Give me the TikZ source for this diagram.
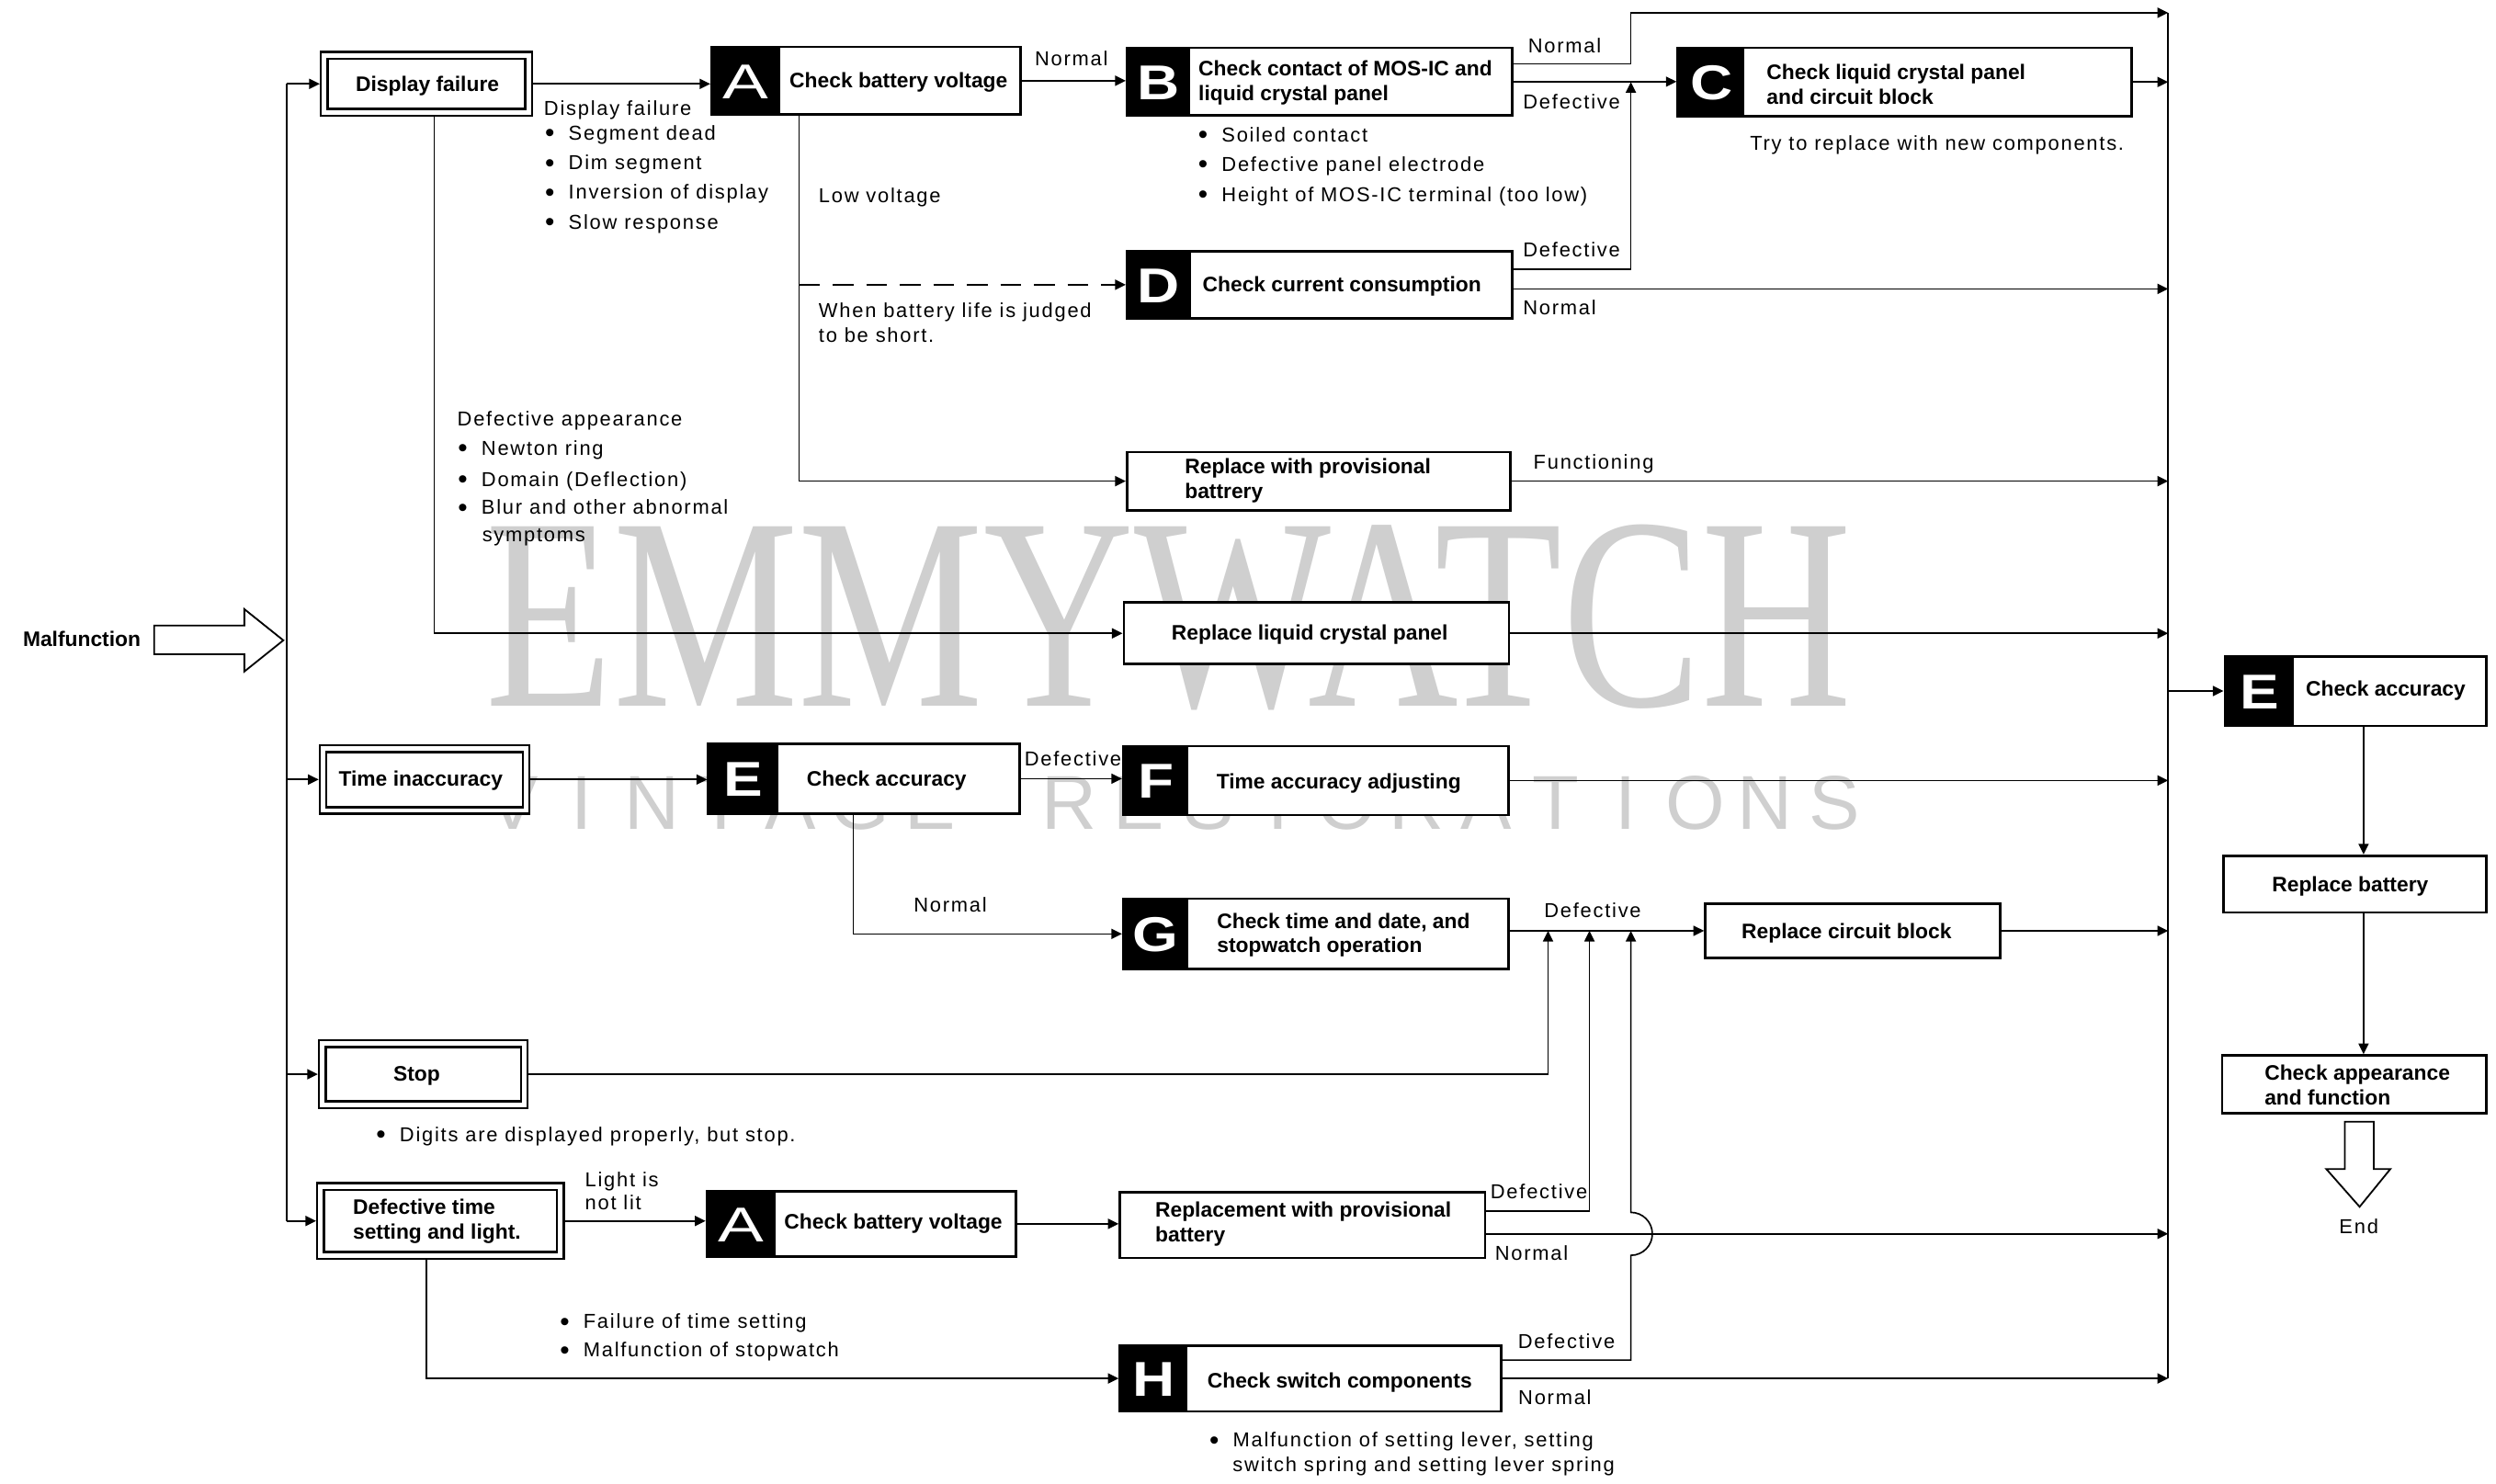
\documentclass[tikz,border=0pt]{standalone}
\usepackage{fontspec}
\usepackage{graphicx}
\setmainfont{Liberation Sans}
\newfontfamily\lbfam[LetterSpace=8]{Liberation Sans}
\newfontfamily\wmserif{Liberation Serif}
\usetikzlibrary{arrows.meta,fit}
\definecolor{wmgray}{gray}{0.81}
\newcommand\lbfont{\lbfam\fontsize{7.2}{8.6}\selectfont}
\newcommand\btfont{\bfseries\fontsize{7.5}{8.76}\selectfont}
\newcommand\ltrthin[1]{\scalebox{1.4}[1]{\fontsize{17.5}{17.5}\selectfont #1}}
\newcommand\ltrbold[1]{\scalebox{1.2}[1]{\bfseries\fontsize{17.5}{17.5}\selectfont #1}}
\newcommand\bigbul{\makebox[8.4pt][l]{\raisebox{-0.8pt}{\scalebox{1.35}{\textbullet}}}}
\tikzset{
  pbox/.style={draw, line width=0.9pt, fill=white, inner sep=0pt},
  dbox/.style={draw, line width=0.8pt, double, double distance=1.6pt, fill=white, inner sep=0pt, outer sep=1.6pt},
  letter/.style={text=white, inner sep=0pt, text height=12.8pt, text depth=0pt},
  btxt/.style={font=\btfont, inner sep=0pt, text height=5.4pt, text depth=0pt},
  btxt2/.style={font=\btfont, inner sep=0pt, align=left, anchor=west},
  lbl/.style={font=\lbfont, inner sep=0pt, anchor=west, text height=5.2pt, text depth=0pt},
  lblc/.style={lbl, anchor=center},
  conn/.style={line width=0.55pt},
  arr/.style={conn, -{Triangle[length=3.8pt,width=3.6pt]}},
  hollow/.style={draw, line width=0.6pt, fill=white},
  wm1/.style={inner sep=0pt, anchor=base, text=wmgray},
  wm2/.style={inner sep=0pt, anchor=base, text=wmgray, font=\fontsize{27.3}{27.3}\selectfont},
}
\newcommand\mkpbox[5]{\node[pbox, fit={(#2,#3) (#4,#5)}] (#1) {};}
\newcommand\mkdbox[5]{\node[dbox, fit={(#2,#3) (#4,#5)}] (#1) {};}
\newcommand\mklbox[7]{\node[pbox, fit={(#2,#3) (#4,#5)}] (#1) {};
  \fill[black] (#2,#3) rectangle (#6,#5);
  \node[letter] (#1L) at ({(#2+#6)/2},{(#3+#5)/2}) {#7};}
\newcommand\mklab[4]{\node[lbl] (#1) at (#2,#3) {#4};}
\newcommand\mklabc[4]{\node[lblc] (#1) at (#2,#3) {#4};}
\newcommand\mkbul[4]{\node[lbl] (#1) at ({#2-2.6},#3) {\bigbul#4};}
\begin{document}
\begin{tikzpicture}[x=0.02cm, y=-0.02cm]
\fill[white] (0,0) rectangle (1568,931.8);
\useasboundingbox (0,0) rectangle (1568,931.8);
% watermark
\node[wm1] (wmA) at (734.3,443.7) {\scalebox{0.76}[1]{\wmserif\fontsize{98}{98}\selectfont EMMYWATCH}};
\foreach \i/\ch in {0/V,1/I,2/N,3/T,4/A,5/G,6/E,8/R,9/E,10/S,11/T,12/O,13/R,14/A,15/T,16/I,17/O,18/N,19/S}
  \node[wm2] (wv\i) at ({322+43.7*\i},521) {\ch};
% boxes
\mkdbox{DF}{203.7}{34.8}{332}{70.6}
\mkdbox{TI}{203}{470.3}{330.5}{509.2}
\mkdbox{ST}{202.5}{655.7}{329.3}{694.1}
\mkdbox{DT}{201.4}{745.5}{352}{788.7}
\mklbox{A1}{447}{29.5}{641}{72}{490}{\ltrthin{A}}
\mklbox{B}{708}{30}{950}{72.6}{747.7}{\ltrbold{B}}
\mklbox{C}{1054}{30}{1339}{73}{1096}{\ltrbold{C}}
\mklbox{D}{708}{157.8}{950}{200}{748}{\ltrbold{D}}
\mkpbox{RPB}{708}{284}{949}{320.6}
\mkpbox{LCP}{706}{378.6}{948}{417.2}
\mklbox{E1}{445}{467.5}{640.6}{511}{489}{\ltrbold{E}}
\mklbox{F}{705.6}{468.7}{947.5}{512}{746.6}{\ltrbold{F}}
\mklbox{G}{705.6}{564.6}{947.5}{608.9}{746.6}{\ltrbold{G}}
\mkpbox{RCB}{1071.3}{567.6}{1256.4}{602}
\mklbox{A2}{444}{748.5}{638.3}{789.3}{487.2}{\ltrthin{A}}
\mkpbox{RPL}{703.5}{749.2}{933}{790.3}
\mklbox{H}{703.5}{845.3}{943.2}{886.8}{746}{\ltrbold{H}}
\mklbox{E2}{1397.6}{412.3}{1562}{456}{1441}{\ltrbold{E}}
\mkpbox{RB}{1396.8}{537.6}{1562}{573.3}
\mkpbox{CAF}{1396}{663.1}{1562}{699.5}
% box texts
\node[btxt] (DFt) at (268.5,52.6) {Display failure};
\node[btxt] (A1t) at (564.5,50.5) {Check battery voltage};
\node[btxt2] (Bt) at (752.6,52) {Check contact of MOS-IC and\\liquid crystal panel};
\node[btxt2] (Ct) at (1109.5,53.1) {Check liquid crystal panel\\and circuit block};
\node[btxt] (Dt) at (843,178.4) {Check current consumption};
\node[btxt2] (RPBt) at (744,302.1) {Replace with provisional\\battrery};
\node[btxt] (LCPt) at (822.8,397.6) {Replace liquid crystal panel};
\node[btxt] (TIt) at (264.3,489.3) {Time inaccuracy};
\node[btxt] (E1t) at (557,489.3) {Check accuracy};
\node[btxt] (Ft) at (841,490.8) {Time accuracy adjusting};
\node[btxt2] (Gt) at (764.2,587.5) {Check time and date, and\\stopwatch operation};
\node[btxt] (RCBt) at (1160,584.8) {Replace circuit block};
\node[btxt] (STt) at (261.8,674.4) {Stop};
\node[btxt2] (DTt) at (221.4,767.2) {Defective time\\setting and light.};
\node[btxt] (A2t) at (561.2,767.6) {Check battery voltage};
\node[btxt2] (RPLt) at (725.4,769) {Replacement with provisional\\battery};
\node[btxt] (Ht) at (841.6,867) {Check switch components};
\node[btxt] (E2t) at (1498.7,432.5) {Check accuracy};
\node[btxt] (RBt) at (1476.4,555.3) {Replace battery};
\node[btxt2] (CAFt) at (1422.3,681.7) {Check appearance\\and function};
\node[btxt] (MAL) at (51.4,401.3) {Malfunction};
% hollow arrows
\draw[hollow] (96.8,393) -- (153.5,393) -- (153.5,382.7) -- (178,402.3) -- (153.5,421.9) -- (153.5,411) -- (96.8,411) -- cycle;
\draw[hollow] (1473,704.8) -- (1491.2,704.8) -- (1491.2,734.5) -- (1501.6,734.5) -- (1482.3,758.2) -- (1461.4,734.5) -- (1473,734.5) -- cycle;
% connectors
\coordinate (mv) at (180,400);
\coordinate (rv) at (1362,400);
\coordinate (rtop) at (1362,8);
\draw[conn] (mv |- DF.west) -- (mv |- DT.west);
\draw[conn] (rtop) -- (rv |- H.east);
\draw[arr] (mv |- DF.west) -- (DF.west);
\draw[arr] (mv |- TI.west) -- (TI.west);
\draw[arr] (mv |- ST.west) -- (ST.west);
\draw[arr] (mv |- DT.west) -- (DT.west);
\draw[arr] (DF.east) -- (DF.east -| A1.west);
\draw[arr] (A1.east) -- (A1.east -| B.west);
\coordinate (jB) at (1024.5,40.2);
\draw[arr] (B.east |- jB) -- (jB) |- (rtop);
\draw[arr] (B.east) -- (B.east -| C.west);
\draw[arr] (C.east) -- (C.east -| rv);
\coordinate (jD) at (1024.5,169);
\draw[arr] (D.east |- jD) -- (jD) -- (jD |- C.west);
\coordinate (jDn) at (1100,181.5);
\draw[arr] (D.east |- jDn) -- (rv |- jDn);
\coordinate (jA) at (502,300);
\draw[arr] (A1.south -| jA) |- (RPB.west);
\draw[arr, dash pattern=on 7.4pt off 4.6pt] (jA |- D.west) -- (D.west);
\draw[arr] (RPB.east) -- (RPB.east -| rv);
\coordinate (jDF) at (272.8,300);
\draw[arr] (DF.south -| jDF) |- (LCP.west);
\draw[arr] (LCP.east) -- (LCP.east -| rv);
\draw[arr] (rv |- E2.west) -- (E2.west);
\coordinate (jE2) at (1484.8,500);
\draw[arr] (E2.south -| jE2) -- (RB.north -| jE2);
\draw[arr] (RB.south -| jE2) -- (CAF.north -| jE2);
\draw[arr] (TI.east) -- (TI.east -| E1.west);
\draw[arr] (E1.east) -- (E1.east -| F.west);
\draw[arr] (F.east) -- (F.east -| rv);
\coordinate (jE1) at (536,550);
\draw[arr] (E1.south -| jE1) |- (G.west);
\draw[arr] (G.east |- RCB.west) -- (RCB.west);
\draw[arr] (RCB.east) -- (RCB.east -| rv);
\coordinate (j1) at (972.5,650);
\draw[arr] (ST.east) -| (j1 |- RCB.west);
\coordinate (j2) at (998.5,761);
\draw[arr] (RPL.east |- j2) -| (j2 |- RCB.west);
\coordinate (j3) at (1024.5,854.5);
\coordinate (jb) at (1024.5,788.7);
\draw[arr] (H.east |- j3) -- (j3) -- (jb) arc[start angle=-90, end angle=90, radius=0.27cm] -- (j3 |- RCB.west);
\coordinate (jRn) at (1100,775.2);
\draw[arr] (RPL.east |- jRn) -- (rv |- jRn);
\draw[arr] (H.east) -- (H.east -| rv);
\draw[arr] (DT.east) -- (DT.east -| A2.west);
\draw[arr] (A2.east) -- (A2.east -| RPL.west);
\coordinate (jDT) at (267.8,800);
\draw[arr] (DT.south -| jDT) |- (H.west);
% labels
\mklab{l1}{341.4}{68}{Display failure}
\mkbul{l2}{344.7}{83.5}{Segment dead}
\mkbul{l3}{344.7}{102}{Dim segment}
\mkbul{l4}{344.7}{120.6}{Inversion of display}
\mkbul{l5}{344.7}{139.2}{Slow response}
\mklabc{l6}{673}{36.7}{Normal}
\mklab{l7}{959.6}{28.9}{Normal}
\mklab{l8}{956.5}{63.9}{Defective}
\mkbul{l9}{755}{84.5}{Soiled contact}
\mkbul{l10}{755}{103}{Defective panel electrode}
\mkbul{l11}{755}{122}{Height of MOS-IC terminal (too low)}
\mklab{l12}{1099}{89.7}{Try to replace with new components.}
\mklab{l13}{514}{123}{Low voltage}
\mklab{l14}{956.5}{156.7}{Defective}
\mklab{l15}{956.5}{193.4}{Normal}
\mklab{l16}{514}{195}{When battery life is judged}
\mklab{l17}{514}{210.7}{to be short.}
\mklab{l18}{963}{290}{Functioning}
\mklab{l19}{287}{262.9}{Defective appearance}
\mkbul{l20}{290}{281.5}{Newton ring}
\mkbul{l21}{290}{301}{Domain (Deflection)}
\mkbul{l22}{290}{318.6}{Blur and other abnormal}
\mklab{l23}{302.6}{335.7}{symptoms}
\mklabc{l24}{674}{476.4}{Defective}
\mklabc{l25}{597}{568.7}{Normal}
\mklab{l26}{969.7}{571.6}{Defective}
\mkbul{l27}{238.6}{712.7}{Digits are displayed properly, but stop.}
\mklab{l28}{367.2}{741.1}{Light is}
\mklab{l29}{367.2}{755.3}{not lit}
\mklab{l30}{936}{748.7}{Defective}
\mklab{l31}{938.8}{787.5}{Normal}
\mkbul{l32}{354}{830}{Failure of time setting}
\mkbul{l33}{354}{848.1}{Malfunction of stopwatch}
\mklab{l34}{953.3}{842.4}{Defective}
\mklab{l35}{953.5}{877.6}{Normal}
\mkbul{l36}{762}{904.5}{Malfunction of setting lever, setting}
\mklab{l37}{774.1}{920}{switch spring and setting lever spring}
\mklabc{l38}{1481.8}{770.3}{End}
\end{tikzpicture}
\end{document}
